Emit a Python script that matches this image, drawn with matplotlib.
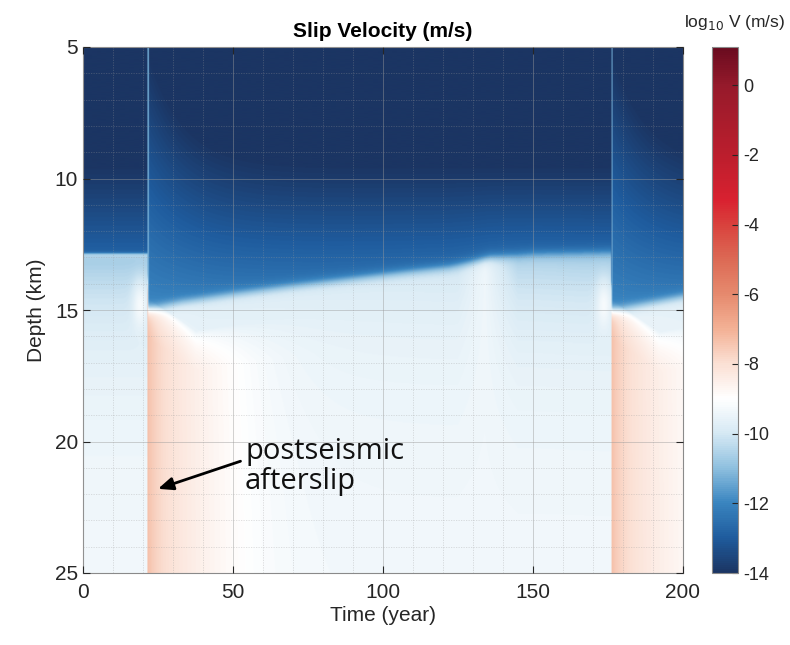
import numpy as np
import matplotlib
matplotlib.use("Agg")
import matplotlib.pyplot as plt
from matplotlib.colors import LinearSegmentedColormap, Normalize
from matplotlib.ticker import MultipleLocator

# ---------------- data ----------------
time_limits = [0, 200]            # years
depth_limits = [5, 25]            # km
event_times = [21.5, 176.2]       # earthquakes (years)

# bottom of the locked (slow, dark-blue) zone versus time
lock_time = [0, 21.4, 21.6, 25, 33, 50, 69, 90, 108, 122, 129, 136, 150, 176.0,
             176.3, 180, 200]
lock_depth = [12.85, 12.85, 14.95, 14.9, 14.7, 14.4, 14.1, 13.8, 13.55, 13.37,
              13.2, 13.0, 12.87, 12.8, 15.0, 14.95, 14.5]

# strength of the light-blue band just below the locked zone versus time
band_time = [0, 21.4, 21.6, 40, 100, 125, 130, 134, 138, 145, 176.0, 176.3, 200]
band_amp = [1.45, 1.45, 0.1, 0.35, 0.55, 0.65, 0.3, 0.0, 0.5, 1.2, 1.35, 0.1, 0.3]

# log10 V levels (m/s)
v_top = -14.0                 # deep locked value (shallow depth)
v_lock_inter = -12.85         # just above lock depth, interseismic
v_lock_post = -11.95          # just above lock depth, right after an event
v_event_line = -11.3          # coseismic column in locked zone
v_creep_deep = -9.3           # creeping fault at 25 km
v_after0 = -7.3               # afterslip right after event
v_after_jump = 0.5            # quick early drop of afterslip
v_after_rate = 0.045          # slow afterslip decay (log10 units per year)

cbar_ticks = [-14, -12, -10, -8, -6, -4, -2, 0]
cbar_limits = [-14, 1.1]
cmap_values = [-14, -13, -12, -11, -10, -9, -8, -7, -6, -5, -4, -3.3, -2, 0, 1.1]
cmap_colors = ['#1b3563', '#1f5c9e', '#3a85c0', '#8fc0df', '#d6e9f4', '#ffffff',
               '#fbe0d4', '#f3b195', '#e68a6e', '#dc6a55', '#d9423d', '#d92130',
               '#bc1e2d', '#961a2b', '#690b1f']

# ---------------- build the field ----------------
t = np.linspace(time_limits[0], time_limits[1], 1201)
d = np.linspace(depth_limits[0], depth_limits[1], 801)
T, D = np.meshgrid(t, d)

B = np.interp(T, lock_time, lock_depth)
amp = np.interp(T, band_time, band_amp)

# time since last event (large before the first one)
tau = np.full_like(T, 1e3)
for te in event_times:
    tau = np.where(T >= te, T - te, tau)
post = tau < 1e3

# locked zone
d0 = 9.4 - 4.4 * np.exp(-tau / 12.0)
vb = v_lock_inter + (v_lock_post - v_lock_inter) * np.exp(-tau / 80.0)
s = np.clip((D - d0) / np.maximum(B - d0, 0.1), 0, 1)
v_locked = v_top + (vb - v_top) * s ** 1.1
v_locked = np.where(tau < 0.45, np.maximum(v_locked, v_event_line), v_locked)

# creeping zone background
dz = np.clip(D - B, 0, None)
v_creep = v_creep_deep - 0.15 - amp * np.exp(-dz / 2.5) + 0.15 * (D - 5) / 20
v_creep = v_creep + 0.8 * (~post) * np.exp(-dz / 0.12)
# pre-event nucleation whitening
for te in event_times:
    g = np.exp(-((T - (te - 2.5)) / 2.5) ** 2 - ((D - 14.8) / 0.9) ** 2)
    v_creep = v_creep + (-9.0 - v_creep) * 0.8 * g * (T < te)

# afterslip (added in velocity, not in log)
v_aft = v_after0 - v_after_jump * (1 - np.exp(-tau / 3.0)) - v_after_rate * tau
top_aft = B + 0.1 + np.minimum(0.1 * tau, 1.6)
gate = np.clip((D - top_aft) / 1.5 + 0.35, 0, 1)
v_aft = v_aft + np.log10(np.maximum(gate, 1e-6))
v_aft = np.where(post, v_aft, -30)
v_creep = np.log10(10.0 ** v_creep + 10.0 ** v_aft)

w = np.where(post, 0.22, 0.06)
frac = 0.5 * (1 + np.tanh((D - B) / w))
V = (1 - frac) * v_locked + frac * v_creep

# ---------------- plot ----------------
plt.rcParams['font.family'] = ['Liberation Sans', 'DejaVu Sans']
plt.rcParams['axes.unicode_minus'] = False
cmap = LinearSegmentedColormap.from_list(
    'slip', list(zip((np.array(cmap_values) - cbar_limits[0]) /
                     (cbar_limits[1] - cbar_limits[0]), cmap_colors)))
norm = Normalize(vmin=cbar_limits[0], vmax=cbar_limits[1])

fig = plt.figure(figsize=(7.9, 6.45), dpi=100)
ax = fig.add_axes([83 / 790, 1 - 573 / 645, 600 / 790, 526 / 645])
ax.imshow(V, cmap=cmap, norm=norm, aspect='auto', origin='upper',
          extent=[time_limits[0], time_limits[1], depth_limits[1], depth_limits[0]],
          interpolation='bilinear')
ax.set_xlim(time_limits)
ax.set_ylim(depth_limits[1], depth_limits[0])

ax.xaxis.set_major_locator(MultipleLocator(50))
ax.xaxis.set_minor_locator(MultipleLocator(10))
ax.yaxis.set_major_locator(MultipleLocator(5))
ax.yaxis.set_minor_locator(MultipleLocator(1))
ax.grid(True, which='major', color='#9a9a9a', lw=0.7, alpha=0.45)
ax.grid(True, which='minor', color='#9a9a9a', lw=0.6, ls=(0, (1.5, 1.5)), alpha=0.35)
ax.set_axisbelow(False)
ax.tick_params(which='both', direction='in', top=True, right=True,
               labelsize=15, colors='#262626', length=5, width=0.8)
ax.tick_params(which='minor', length=0)
ax.tick_params(axis='x', pad=7)
for sp in ax.spines.values():
    sp.set_color('#8a8a8a')
    sp.set_linewidth(0.8)

ax.set_xlabel('Time (year)', fontsize=15, color='#262626', labelpad=3)
ax.set_ylabel('Depth (km)', fontsize=15, color='#262626', labelpad=6)
ax.set_title('Slip Velocity (m/s)', fontsize=15, fontweight='bold', pad=7)

ax.annotate('', xy=(25, 21.8), xytext=(52.5, 20.75),
            arrowprops=dict(arrowstyle='-|>,head_length=0.9,head_width=0.38',
                            color='black', lw=2.0, shrinkA=0, shrinkB=0))
ax.text(54, 20.95, 'postseismic\nafterslip', fontsize=21, family=['Open Sans', 'DejaVu Sans'],
        ha='left', va='center', linespacing=1.05, color='#111111')

cax = fig.add_axes([712 / 790, 1 - 573 / 645, 26 / 790, 526 / 645])
cb = fig.colorbar(plt.cm.ScalarMappable(norm=norm, cmap=cmap), cax=cax, ticks=cbar_ticks)
cb.ax.tick_params(direction='in', labelsize=13, colors='#262626', length=4, width=0.8)
cb.outline.set_edgecolor('#8a8a8a')
cb.outline.set_linewidth(0.8)
fig.text(735 / 790, 1 - 22 / 645, r'log$_{10}$ V (m/s)', fontsize=12.5, ha='center',
         va='center', color='#262626')

fig.savefig('out.png', dpi=100)
